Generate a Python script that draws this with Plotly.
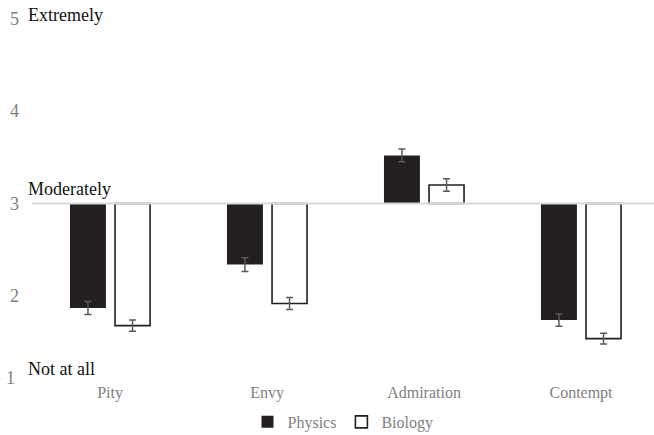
import plotly.graph_objects as go

# Emotion ratings (1 = not at all, 3 = moderately, 5 = extremely)
emotions = ["Pity", "Envy", "Admiration", "Contempt"]
physics_means = [1.87, 2.34, 3.52, 1.74]
physics_se = [0.07, 0.075, 0.068, 0.067]
biology_means = [1.68, 1.92, 3.20, 1.54]
biology_se = [0.06, 0.065, 0.068, 0.058]

scale_mid = 3
y_ticks = [2, 3, 4, 5]
y_floor = 1.114
anchor_labels = [(5, "Extremely", 3), (3, "Moderately", 15), (y_floor, "Not at all", 9)]

ink = "#231f20"
grey_text = "#808080"
serif = "Liberation Serif, Times New Roman, serif"

fig = go.Figure()

fig.add_trace(go.Bar(
    name="Physics",
    x=emotions,
    y=[m - scale_mid for m in physics_means],
    base=scale_mid,
    offset=-0.255,
    width=0.229,
    marker=dict(color=ink, line=dict(width=0)),
    error_y=dict(type="data", array=physics_se, color="#595959",
                 thickness=1.5, width=3.5),
))
fig.add_trace(go.Bar(
    name="Biology",
    x=emotions,
    y=[m - scale_mid for m in biology_means],
    base=scale_mid,
    offset=0.032,
    width=0.223,
    marker=dict(color="white", line=dict(color=ink, width=1.6)),
    error_y=dict(type="data", array=biology_se, color="#595959",
                 thickness=1.5, width=3.5),
))

# baseline at the scale midpoint
fig.add_shape(type="line", xref="paper", x0=0, x1=1, yref="y",
              y0=scale_mid, y1=scale_mid,
              line=dict(color="#d9d9d9", width=2.2), layer="above")

annotations = []
for val, txt, shift in anchor_labels:
    annotations.append(dict(
        text=txt, xref="paper", x=-0.0095, xanchor="left",
        yref="y", y=val, yanchor="middle", yshift=shift,
        showarrow=False, font=dict(family=serif, size=18, color="#111111"),
    ))
# lowest scale point shown at the axis floor
annotations.append(dict(
    text="1", xref="paper", x=-0.0241, xanchor="right",
    yref="y", y=y_floor, yanchor="middle", yshift=0,
    showarrow=False, font=dict(family=serif, size=18, color=grey_text),
))

fig.update_layout(
    width=654, height=435,
    margin=dict(l=32, r=0, t=12, b=57, autoexpand=False),
    paper_bgcolor="white", plot_bgcolor="white",
    barmode="overlay",
    showlegend=True,
    legend=dict(orientation="h", x=0.5, xanchor="center",
                yref="container", y=0.03, yanchor="middle",
                font=dict(family=serif, size=16, color=grey_text),
                itemwidth=30, tracegroupgap=0),
    font=dict(family=serif, color=grey_text),
    annotations=annotations,
)
fig.update_xaxes(
    range=[-0.497, 3.465], showgrid=False, zeroline=False, showline=False,
    ticks="", ticklabelstandoff=3,
    tickfont=dict(family=serif, size=16, color=grey_text),
)
fig.update_yaxes(
    range=[y_floor, 5.07], tickvals=y_ticks, showgrid=False, zeroline=False,
    showline=False, ticks="", ticklabelstandoff=12,
    tickfont=dict(family=serif, size=18, color=grey_text),
)

fig.write_html("out.html")
